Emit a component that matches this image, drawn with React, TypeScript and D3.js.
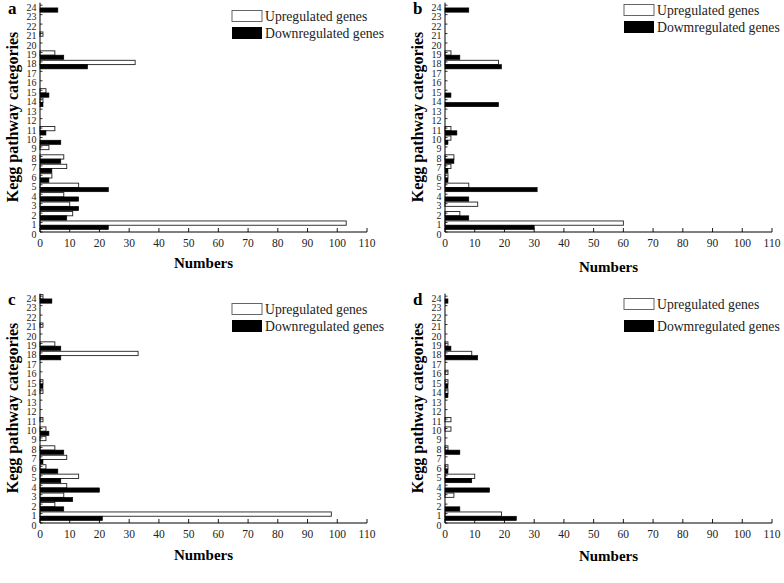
import React from "react";
import * as d3 from "d3";

const categoryTicks = d3.range(0, 25);
const xTicks = d3.range(0, 111, 10);
const categories = d3.range(1, 25);

// values for categories 1..24
const upA = [103, 11, 10, 8, 13, 4, 9, 8, 3, 0, 5, 0, 0, 1, 2, 0, 0, 32, 5, 0, 1, 0, 0, 0];
const downA = [23, 9, 13, 13, 23, 3, 4, 7, 0, 7, 2, 0, 0, 1, 3, 0, 0, 16, 8, 0, 0, 0, 0, 6];
const upB = [60, 5, 11, 0, 8, 1, 2, 3, 0, 2, 2, 0, 0, 0, 0, 0, 0, 18, 2, 0, 0, 0, 0, 0];
const downB = [30, 8, 0, 8, 31, 1, 1, 3, 0, 1, 4, 0, 0, 18, 2, 0, 0, 19, 5, 0, 0, 0, 0, 8];
const upC = [98, 5, 8, 9, 13, 2, 9, 5, 2, 2, 1, 0, 0, 1, 1, 0, 0, 33, 5, 0, 1, 0, 0, 1];
const downC = [21, 8, 11, 20, 7, 6, 1, 8, 0, 3, 0, 0, 0, 0, 1, 0, 0, 7, 7, 0, 0, 0, 0, 4];
const upD = [19, 0, 3, 0, 10, 1, 0, 1, 0, 2, 2, 0, 0, 1, 1, 1, 0, 9, 1, 0, 0, 0, 0, 0];
const downD = [24, 5, 0, 15, 9, 1, 0, 5, 0, 0, 0, 0, 0, 1, 1, 0, 0, 11, 2, 0, 0, 0, 0, 1];

const legendUp = "Upregulated genes";
const legendDownAC = "Downregulated genes";
const legendDownBD = "Dowmregulated genes";

const FONT = "'Liberation Serif', 'Times New Roman', serif";

type PanelProps = {
  letter: string;
  x0: number;
  axisY: number;
  up: number[];
  down: number[];
  downLabel: string;
  legX: number;
  legY1: number;
  legY2: number;
  titleY: number;
};

function Panel(p: PanelProps) {
  const x = d3.scaleLinear().domain([0, 110]).range([p.x0, p.x0 + 327]);
  const y = d3.scaleLinear().domain([0, 24]).range([p.axisY, p.axisY - 226.8]);
  const bh = 4.3;
  const off = 2.7;
  return (
    <g fontFamily={FONT}>
      <text x={p.x0 - 32} y={y(24) + 9} fontSize={17} fontWeight="bold">{p.letter}</text>
      {/* bars */}
      {categories.map((c, i) => (
        <g key={c}>
          {p.up[i] > 0 && (
            <rect x={x(0)} y={y(c) + off - bh} width={x(p.up[i]) - x(0)} height={bh}
              fill="#fff" stroke="#222" strokeWidth={0.9} />
          )}
          {p.down[i] > 0 && (
            <rect x={x(0)} y={y(c) + off} width={x(p.down[i]) - x(0)} height={bh}
              fill="#000" stroke="#000" strokeWidth={0.6} />
          )}
        </g>
      ))}
      {/* y axis */}
      <line x1={x(0)} x2={x(0)} y1={p.axisY} y2={y(24) - 2.5} stroke="#000" strokeWidth={1} />
      {categoryTicks.map((t) => (
        <g key={t}>
          <line x1={x(0)} x2={x(0) + 2.5} y1={y(t)} y2={y(t)} stroke="#000" strokeWidth={0.8} />
          <text x={x(0) - 3.5} y={y(t) + 2} fontSize={10} textAnchor="end" dominantBaseline="central" fill="#222">{t}</text>
        </g>
      ))}
      {/* x axis */}
      <line x1={x(0)} x2={x(110)} y1={p.axisY} y2={p.axisY} stroke="#000" strokeWidth={1} />
      {xTicks.map((t) => (
        <g key={t}>
          <line x1={x(t)} x2={x(t)} y1={p.axisY} y2={p.axisY - 4} stroke="#000" strokeWidth={0.9} />
          <text x={x(t)} y={p.axisY + 10.5} fontSize={11.5} textAnchor="middle" dominantBaseline="central" fill="#222">{t}</text>
        </g>
      ))}
      <text x={(x(0) + x(110)) / 2} y={p.titleY} fontSize={15} fontWeight="bold" textAnchor="middle" dominantBaseline="central">Numbers</text>
      <text transform={`translate(${p.x0 - 28},${p.axisY - 115}) rotate(-90)`} fontSize={16} fontWeight="bold" textAnchor="middle" dominantBaseline="central">Kegg pathway categories</text>
      {/* legend */}
      <rect x={p.legX} y={p.legY1 - 5.5} width={30} height={11} fill="#fff" stroke="#555" strokeWidth={0.9} />
      <text x={p.legX + 33} y={p.legY1} fontSize={13.7} dominantBaseline="central" fill="#222">{legendUp}</text>
      <rect x={p.legX} y={p.legY2 - 6} width={30} height={12} fill="#000" />
      <text x={p.legX + 33} y={p.legY2} fontSize={13.7} dominantBaseline="central" fill="#222">{p.downLabel}</text>
    </g>
  );
}

export default function App() {
  return (
    <svg width={784} height={583} style={{ position: "absolute", left: 0, top: 0, background: "#fff" }}>
      <rect width={784} height={583} fill="#fff" />
      <Panel letter="a" x0={40} axisY={232} up={upA} down={downA} downLabel={legendDownAC} legX={232} legY1={16} legY2={33} titleY={263} />
      <Panel letter="b" x0={445} axisY={232} up={upB} down={downB} downLabel={legendDownBD} legX={624} legY1={10} legY2={27} titleY={267} />
      <Panel letter="c" x0={40} axisY={523} up={upC} down={downC} downLabel={legendDownAC} legX={232} legY1={309} legY2={326} titleY={555} />
      <Panel letter="d" x0={445} axisY={523} up={upD} down={downD} downLabel={legendDownBD} legX={624} legY1={304} legY2={326} titleY={556} />
    </svg>
  );
}
